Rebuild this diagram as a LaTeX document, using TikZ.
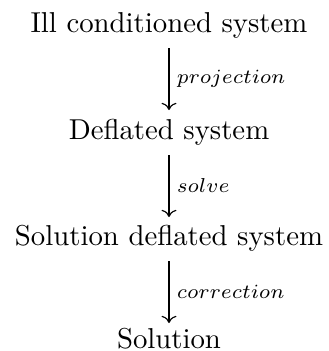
\documentclass[tikz,border=0pt]{standalone}
\usetikzlibrary{cd}
\begin{document}
\begin{tikzpicture}[x=0.3476pt,y=-0.3476pt,
  box/.style={inner sep=0pt, anchor=base},
  lbl/.style={anchor=west, inner sep=2.5pt},
  arr/.style={-{cm to}, line width=0.4pt}]
\useasboundingbox (0,0) rectangle (328,351);
\node[box] (a) at (169,32) {Ill conditioned system};
\node[box] (b) at (169,139) {Deflated system};
\node[box] (c) at (169,245) {Solution deflated system};
\node[box] (d) at (169,348) {Solution};
\coordinate (a1) at (169,48);
\coordinate (a2) at (169,110);
\coordinate (b1) at (169,155);
\coordinate (b2) at (169,217);
\coordinate (c1) at (169,261);
\coordinate (c2) at (169,323);
\draw[arr] (a1) -- node[lbl] {$\scriptstyle projection$} (a2);
\draw[arr] (b1) -- node[lbl] {$\scriptstyle solve$} (b2);
\draw[arr] (c1) -- node[lbl] {$\scriptstyle correction$} (c2);
\end{tikzpicture}
\end{document}
